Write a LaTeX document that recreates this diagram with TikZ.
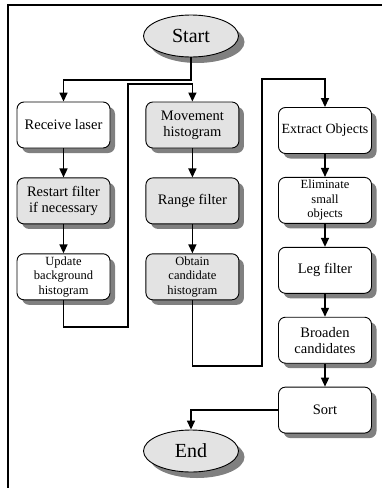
\documentclass[tikz,border=0pt]{standalone}
\usepackage{fontspec}
\setmainfont{Liberation Serif}
\usetikzlibrary{positioning,shapes.geometric,shadows,arrows.meta}
\definecolor{boxgray}{rgb}{0.89,0.89,0.89}
\definecolor{shadegray}{rgb}{0.5,0.5,0.5}

\begin{document}
\begin{tikzpicture}[
	x=1pt,
	y=-1pt,
	node distance=29pt
]
\tikzset{
    stepbox/.style = {rectangle, rounded corners=7pt, draw=black, line width=0.9pt, fill=white,
        minimum width=93pt, minimum height=46pt, align=center, inner sep=1pt,
        font=\fontsize{14.5}{16}\selectfont,
        drop shadow={shadow xshift=5pt, shadow yshift=-5pt, fill=shadegray, opacity=1}},
    grayfill/.style = {fill=boxgray},
    smalltext/.style = {font=\fontsize{12.5}{14.5}\selectfont},
    startend/.style = {ellipse, draw=black, line width=0.9pt, fill=boxgray,
        minimum width=95pt, minimum height=42pt, inner sep=0pt,
        font=\fontsize{20}{22}\selectfont,
        drop shadow={shadow xshift=6pt, shadow yshift=-6pt, fill=shadegray, opacity=1}},
    arr/.style = {line width=1.5pt, -{Triangle[length=9pt,width=8pt]}},
}
    \useasboundingbox (0,0) rectangle (382,488);

    % frame
    \draw[line width=2pt] (8,488) -- (8,5) -- (382,5);

    \node (start) [startend] at (191,36) {Start};

    % first column
    \node (recv) [stepbox] at (63.5,125) {Receive laser};
    \node (restart) [stepbox, grayfill, below=of recv] {Restart filter\\if necessary};
    \node (update) [stepbox, smalltext, below=of restart] {Update\\background\\histogram};

    % second column
    \node (move) [stepbox, grayfill, right=35pt of recv] {Movement\\histogram};
    \node (range) [stepbox, grayfill, below=of move] {Range filter};
    \node (obtain) [stepbox, grayfill, smalltext, below=of range] {Obtain\\candidate\\histogram};

    % third column
    \node (extract) [stepbox, font=\fontsize{14}{16}\selectfont] at (325,130.5) {Extract Objects};
    \node (elim) [stepbox, smalltext, below=23pt of extract] {Eliminate\\small\\objects};
    \node (leg) [stepbox, below=23pt of elim] {Leg filter};
    \node (broaden) [stepbox, below=23pt of leg] {Broaden\\candidates};
    \node (sort) [stepbox, below=23pt of broaden] {Sort};

    \node (end) [startend] at (191,451) {End};

    \coordinate (a1) at (191,80);
    \coordinate (b1) at (128,327);
    \coordinate (b2) at (128,84);
    \coordinate (c1) at (262,366);
    \coordinate (c2) at (262,79);

    \draw[arr] (start.south) -- (a1) -| (recv.north);
    \draw[arr] (recv) -- (restart);
    \draw[arr] (restart) -- (update);
    \draw[arr] (update.south) |- (b1) -- (b2) -| (move.north);
    \draw[arr] (move) -- (range);
    \draw[arr] (range) -- (obtain);
    \draw[arr] (obtain.south) |- (c1) -- (c2) -| (extract.north);
    \draw[arr] (extract) -- (elim);
    \draw[arr] (elim) -- (leg);
    \draw[arr] (leg) -- (broaden);
    \draw[arr] (broaden) -- (sort);
    \draw[arr] (sort.west) -| (end.north);
\end{tikzpicture}
\end{document}
